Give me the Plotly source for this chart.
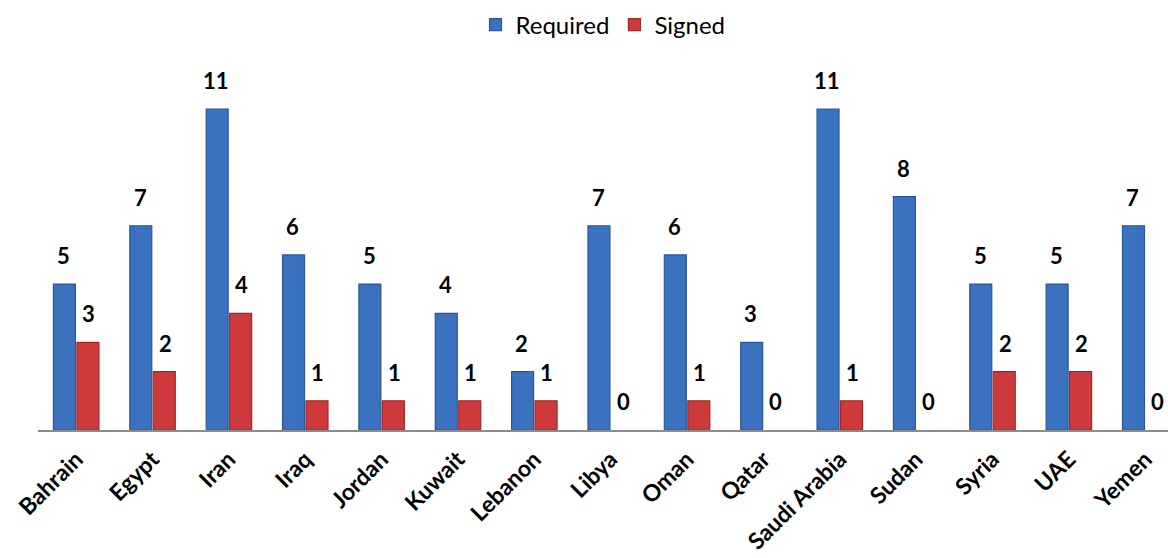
import plotly.graph_objects as go

countries = ["Bahrain", "Egypt", "Iran", "Iraq", "Jordan", "Kuwait", "Lebanon", "Libya",
             "Oman", "Qatar", "Saudi Arabia", "Sudan", "Syria", "UAE", "Yemen"]
required = [5, 7, 11, 6, 5, 4, 2, 7, 6, 3, 11, 8, 5, 5, 7]
signed = [3, 2, 4, 1, 1, 1, 1, 0, 1, 0, 1, 0, 2, 2, 0]

W, H = 1168, 558
ML, MR, MT, MB = 38, 0, 60, 128
cat_px = 76.36
px_per_unit = 29.18
plot_h = H - MT - MB
plot_w = W - ML - MR

FONT = "Lato, 'Open Sans', sans-serif"


def edge_widths(vals):
    return [1.2 if v > 0 else 0 for v in vals]


fig = go.Figure()
fig.add_trace(go.Bar(
    name="Required", x=countries, y=required,
    marker=dict(color="#3A72C0", line=dict(color="#2A5797", width=edge_widths(required))),
))
fig.add_trace(go.Bar(
    name="Signed", x=countries, y=signed,
    marker=dict(color="#CE3A3B", line=dict(color="#A02728", width=edge_widths(signed))),
))

annotations = []
for c, r, s in zip(countries, required, signed):
    for v, sh in ((r, -12.5), (s, 12.5)):
        annotations.append(dict(
            x=c, y=v, xref="x", yref="y", text=str(v), showarrow=False,
            xanchor="center", yanchor="bottom", xshift=sh, yshift=13,
            font=dict(family=FONT, size=22, color="#000000", weight="bold"),
        ))

fig.update_layout(
    width=W, height=H,
    margin=dict(l=ML, r=MR, t=MT, b=MB, pad=0, autoexpand=False),
    paper_bgcolor="white", plot_bgcolor="white",
    barmode="group", bargap=0.385, bargroupgap=0.064,
    font=dict(family=FONT, color="#000000"),
    showlegend=True,
    legend=dict(orientation="h", x=0.5, xanchor="center", y=1 - 25 / H, yanchor="middle",
                yref="container", font=dict(size=24, family=FONT), traceorder="normal",
                itemwidth=30),
    xaxis=dict(
        type="category", range=[-0.5, -0.5 + plot_w / cat_px], automargin=False,
        showline=True, linecolor="#8C8C8C", linewidth=1.5,
        showgrid=False, zeroline=False, ticks="",
        tickangle=-45, tickfont=dict(family=FONT, size=23, color="#000000", weight="bold"),
        ticklabelstandoff=5,
    ),
    yaxis=dict(
        range=[0, plot_h / px_per_unit], visible=False, showgrid=False, zeroline=False,
        automargin=False,
    ),
    annotations=annotations,
)

fig.write_html("out.html", config={"displayModeBar": False})
